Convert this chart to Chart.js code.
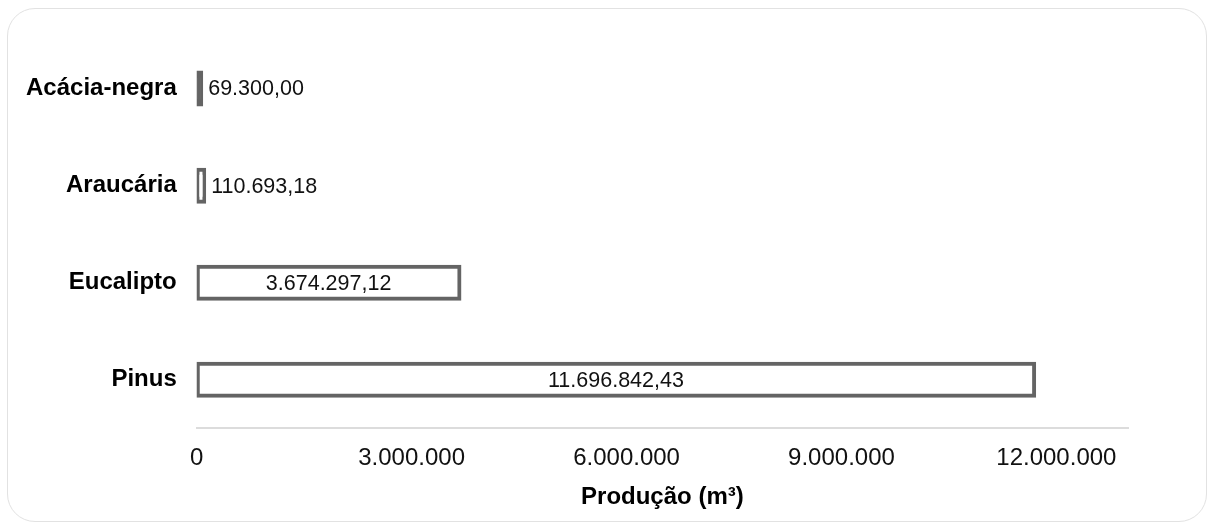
<!DOCTYPE html>
<html lang="pt-BR">
<head>
<meta charset="utf-8">
<title>Produção por espécie</title>
<script src="https://cdn.jsdelivr.net/npm/chart.js@4.4.1/dist/chart.umd.min.js"></script>
<style>
  html, body { margin: 0; padding: 0; background: #ffffff; }
  body { width: 1216px; height: 531px; position: relative; overflow: hidden; }
  .card {
    position: absolute; left: 7px; top: 8px; width: 1200px; height: 514px;
    border: 1.5px solid #e2e2e2; border-radius: 28px; box-sizing: border-box;
  }
  #wrap { position: absolute; left: 0; top: 0; width: 1216px; height: 531px; }
</style>
</head>
<body>
<div class="card"></div>
<div id="wrap"><canvas id="chart"></canvas></div>
<script>
// Espécies e produção (m³)
const categories = ['Acácia-negra', 'Araucária', 'Eucalipto', 'Pinus'];
const production = [69300.00, 110693.18, 3674297.12, 11696842.43];
const tickValues = [0, 3000000, 6000000, 9000000, 12000000];
const axisTitle = 'Produção (m³)';

const FONT = '"Liberation Sans", Arial, Helvetica, sans-serif';
const BAR_INFLATE = 1.5;
const BAR_STROKE = '#646464';

// Formatação pt-BR: milhar com ponto, decimal com vírgula
function groupThousands(intStr) {
  return intStr.replace(/\B(?=(\d{3})+(?!\d))/g, '.');
}
function formatInt(v) {
  return groupThousands(String(Math.round(v)));
}
function formatDec(v) {
  const fixed = v.toFixed(2);
  const [i, d] = fixed.split('.');
  return groupThousands(i) + ',' + d;
}

// Barras estreitas demais para ter miolo branco ficam totalmente preenchidas
function barFill(ctx) {
  const x = ctx.chart.scales.x;
  if (!x || ctx.raw == null) return '#ffffff';
  const w = Math.abs(x.getPixelForValue(ctx.raw) - x.getPixelForValue(0));
  return w < 7 ? BAR_STROKE : '#ffffff';
}

// Rótulos de valor: dentro da barra quando cabem, senão à direita
const valueLabels = {
  id: 'valueLabels',
  afterDatasetsDraw(chart) {
    const { ctx } = chart;
    const meta = chart.getDatasetMeta(0);
    ctx.save();
    ctx.font = '21.5px ' + FONT;
    ctx.fillStyle = '#111111';
    ctx.textBaseline = 'middle';
    meta.data.forEach((bar, i) => {
      const text = formatDec(production[i]);
      const w = ctx.measureText(text).width;
      const left = bar.base;
      const right = bar.x;
      if (right - left > w + 16) {
        ctx.textAlign = 'center';
        ctx.fillText(text, (left + right) / 2, bar.y + 1);
      } else {
        ctx.textAlign = 'left';
        ctx.fillText(text, right + BAR_INFLATE + 5, bar.y + 1);
      }
    });
    ctx.restore();
  }
};

new Chart(document.getElementById('chart'), {
  type: 'bar',
  data: {
    labels: categories,
    datasets: [{
      data: production,
      backgroundColor: barFill,
      borderColor: BAR_STROKE,
      borderWidth: 4,
      borderSkipped: false,
      inflateAmount: BAR_INFLATE,
      barThickness: 33
    }]
  },
  options: {
    indexAxis: 'y',
    responsive: true,
    maintainAspectRatio: false,
    animation: false,
    layout: { padding: { left: 6, right: 88, top: 40, bottom: 19 } },
    plugins: {
      legend: { display: false },
      tooltip: { enabled: false }
    },
    scales: {
      x: {
        min: 0,
        max: 13000000,
        afterBuildTicks(axis) {
          axis.ticks = tickValues.map(v => ({ value: v }));
        },
        grid: { drawOnChartArea: false, drawTicks: false },
        border: { display: true, color: '#dcdcdc', width: 2 },
        ticks: {
          padding: 16,
          color: '#111111',
          font: { family: FONT, size: 24 },
          callback: (v) => formatInt(v)
        },
        title: {
          display: true,
          text: axisTitle,
          color: '#000000',
          font: { family: FONT, size: 24, weight: 'bold' },
          padding: { top: -6, bottom: 0 }
        }
      },
      y: {
        grid: { display: false, drawTicks: false },
        border: { display: false },
        ticks: {
          padding: 20,
          color: '#000000',
          font: { family: FONT, size: 24, weight: 'bold' }
        }
      }
    }
  },
  plugins: [valueLabels]
});
</script>
</body>
</html>
